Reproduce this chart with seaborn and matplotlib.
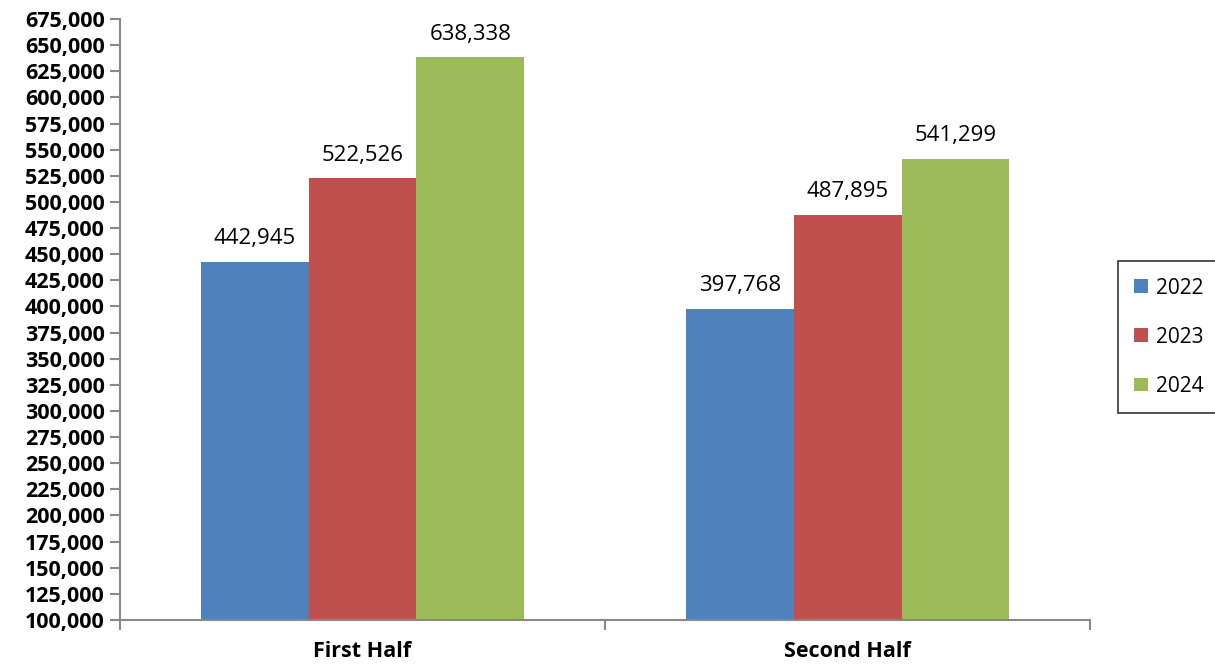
import matplotlib
matplotlib.use("Agg")
import matplotlib.pyplot as plt
import seaborn as sns
import pandas as pd

halves = ["First Half", "Second Half"]
years = ["2022", "2023", "2024"]
values_2022 = [442945, 397768]
values_2023 = [522526, 487895]
values_2024 = [638338, 541299]
colors = ["#4F81BD", "#C0504D", "#9BBB59"]

rows = []
for year, vals in zip(years, [values_2022, values_2023, values_2024]):
    for half, v in zip(halves, vals):
        rows.append({"half": half, "year": year, "value": v})
df = pd.DataFrame(rows)

sns.set_style("white")
plt.rcParams["font.family"] = ["Open Sans", "DejaVu Sans"]
plt.rcParams["text.color"] = "black"
plt.rcParams["xtick.color"] = "black"
plt.rcParams["ytick.color"] = "black"

fig = plt.figure(figsize=(12.15, 6.65), dpi=100)
ax = fig.add_axes([0.0988, 0.0677, 0.7984, 0.9037])

sns.barplot(data=df, x="half", y="value", hue="year", palette=colors,
            width=0.667, saturation=1, ax=ax, linewidth=0, errorbar=None)

for c in ax.containers:
    ax.bar_label(c, labels=[f"{v:,.0f}" for v in c.datavalues],
                 padding=9, fontsize=16, color="black")

ax.set_ylim(100000, 675000)
ax.set_yticks(range(100000, 675001, 25000))
ax.set_yticklabels([f"{t:,}" for t in range(100000, 675001, 25000)],
                   fontsize=15.5, fontweight="bold")
ax.set_xlim(-0.5, 1.5)
ax.set_xticks([-0.5, 0.5, 1.5], minor=False)
ax.set_xticklabels(["", "", ""])
ax.set_xticks([0, 1], minor=True)
ax.set_xticklabels(halves, minor=True, fontsize=15.5, fontweight="bold")
ax.tick_params(axis="x", which="minor", length=0, pad=15, bottom=True)
ax.tick_params(axis="x", which="major", length=7, color="#888888", width=1.5,
               bottom=True, direction="out")
ax.tick_params(axis="y", length=7, color="#888888", width=1.5, pad=4,
               left=True, direction="out")
ax.set_xlabel("")
ax.set_ylabel("")

for side in ["top", "right"]:
    ax.spines[side].set_visible(False)
for side in ["left", "bottom"]:
    ax.spines[side].set_color("#888888")
    ax.spines[side].set_linewidth(1.5)

handles, labels = ax.get_legend_handles_labels()
leg = ax.legend(handles, labels, loc="center left", bbox_to_anchor=(0.92, 0.493),
                bbox_transform=fig.transFigure, frameon=True, fancybox=False,
                borderaxespad=0, edgecolor="black", fontsize=15,
                handlelength=0.65, handleheight=0.65, labelspacing=1.35,
                borderpad=0.8, handletextpad=0.4)
leg.get_frame().set_linewidth(1.2)
for t in leg.get_texts():
    t.set_color("black")

fig.savefig("out.png", dpi=100)
